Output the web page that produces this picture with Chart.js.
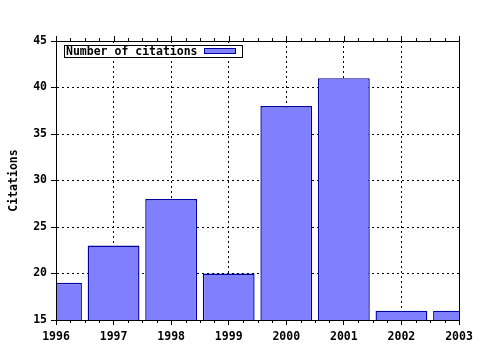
<!DOCTYPE html>
<html>
<head>
<meta charset="utf-8">
<script src="https://cdn.jsdelivr.net/npm/chart.js@4/dist/chart.umd.min.js"></script>
<style>
html, body { margin: 0; padding: 0; background: #fff; }
</style>
</head>
<body>
<canvas id="citeChart" width="480" height="350"></canvas>
<script>
const years = [1996, 1997, 1998, 1999, 2000, 2001, 2002, 2003];
const citations = [19, 23, 28, 20, 38, 41, 16, 16];
const seriesLabel = "Number of citations";
const yTicks = [15, 20, 25, 30, 35, 40, 45];
const yTitle = "Citations";

const monoFont = { family: '"DejaVu Sans Mono", monospace', size: 11.5, weight: 'bold' };
const fontStr = 'bold 11.5px "DejaVu Sans Mono", monospace';

// frame round the plot + small quarter-year ticks on top and bottom axes
const framePlugin = {
    id: 'frame',
    afterDatasetsDraw(chart) {
        const { ctx, chartArea: a, scales } = chart;
        const x = scales.x;
        ctx.save();
        ctx.strokeStyle = '#000';
        ctx.lineWidth = 1;
        ctx.setLineDash([]);
        ctx.strokeRect(Math.round(a.left) + 0.5, Math.round(a.top) + 0.5,
            Math.round(a.right - a.left), Math.round(a.bottom - a.top));
        ctx.beginPath();
        for (let i = 0; i < years.length; i++) {
            for (let q = 0; q < 4; q++) {
                const v = years[i] + q / 4;
                if (v > x.max) continue;
                const px = Math.round(x.getPixelForValue(v)) + 0.5;
                const len = q === 0 ? 5 : 3;
                ctx.moveTo(px, a.top);
                ctx.lineTo(px, a.top - len);
                if (q !== 0) {
                    ctx.moveTo(px, a.bottom);
                    ctx.lineTo(px, a.bottom + len);
                }
            }
        }
        ctx.stroke();
        ctx.restore();
    }
};

// legend box inside plot: text first, then swatch
const boxLegend = {
    id: 'boxLegend',
    afterDraw(chart) {
        const { ctx, chartArea: a } = chart;
        const ds = chart.data.datasets[0];
        ctx.save();
        ctx.font = fontStr;
        const x = Math.round(a.left) + 8, y = Math.round(a.top) + 4;
        const tw = ctx.measureText(ds.label).width;
        const w = Math.round(tw + 46), h = 12;
        ctx.fillStyle = '#fff';
        ctx.fillRect(x, y, w, h);
        ctx.strokeStyle = '#000';
        ctx.lineWidth = 1;
        ctx.strokeRect(x + 0.5, y + 0.5, w, h);
        ctx.fillStyle = '#000';
        ctx.textBaseline = 'middle';
        ctx.fillText(ds.label, x + 2, y + h / 2 + 1);
        const sx = Math.round(x + tw + 8);
        ctx.fillStyle = ds.backgroundColor;
        ctx.fillRect(sx, y + 3, 32, 6);
        ctx.strokeStyle = ds.borderColor;
        ctx.strokeRect(sx + 0.5, y + 3.5, 31, 5);
        ctx.restore();
    }
};

const chart = new Chart(document.getElementById("citeChart"), {
    type: 'bar',
    data: {
        datasets: [{
            label: seriesLabel,
            data: years.map((yr, i) => ({ x: yr, y: citations[i] })),
            backgroundColor: "#8080ff",
            borderColor: "#0000a0",
            borderWidth: 1.4,
            borderSkipped: false,
            inflateAmount: 0,
            barPercentage: 0.9,
            categoryPercentage: 1,
            clip: 0
        }]
    },
    options: {
        responsive: false,
        animation: false,
        layout: { padding: { top: 41, right: 21, left: 0, bottom: 0 } },
        plugins: { legend: { display: false }, tooltip: { enabled: false } },
        scales: {
            x: {
                type: 'linear',
                offset: false,
                min: years[0],
                max: years[years.length - 1],
                afterBuildTicks: s => { s.ticks = years.map(v => ({ value: v })); },
                afterFit: s => { s.height = 30; },
                grid: { color: '#000', offset: false, tickLength: 5, tickColor: '#000', tickBorderDash: [] },
                border: { color: '#000', dash: [2, 3] },
                ticks: {
                    color: '#000', font: monoFont, padding: 5,
                    autoSkip: false, maxRotation: 0,
                    callback: v => String(v)
                }
            },
            y: {
                min: yTicks[0],
                max: yTicks[yTicks.length - 1],
                afterBuildTicks: s => { s.ticks = yTicks.map(v => ({ value: v })); },
                afterFit: s => { s.width = 56; },
                grid: { color: '#000', tickLength: 5, tickColor: '#000', tickBorderDash: [] },
                border: { color: '#000', dash: [2, 3] },
                ticks: { color: '#000', font: monoFont, padding: 4 },
                title: {
                    display: true, text: yTitle, color: '#000',
                    font: monoFont, padding: { top: 7, bottom: 0 }
                }
            }
        }
    },
    plugins: [framePlugin, boxLegend]
});
</script>
</body>
</html>
